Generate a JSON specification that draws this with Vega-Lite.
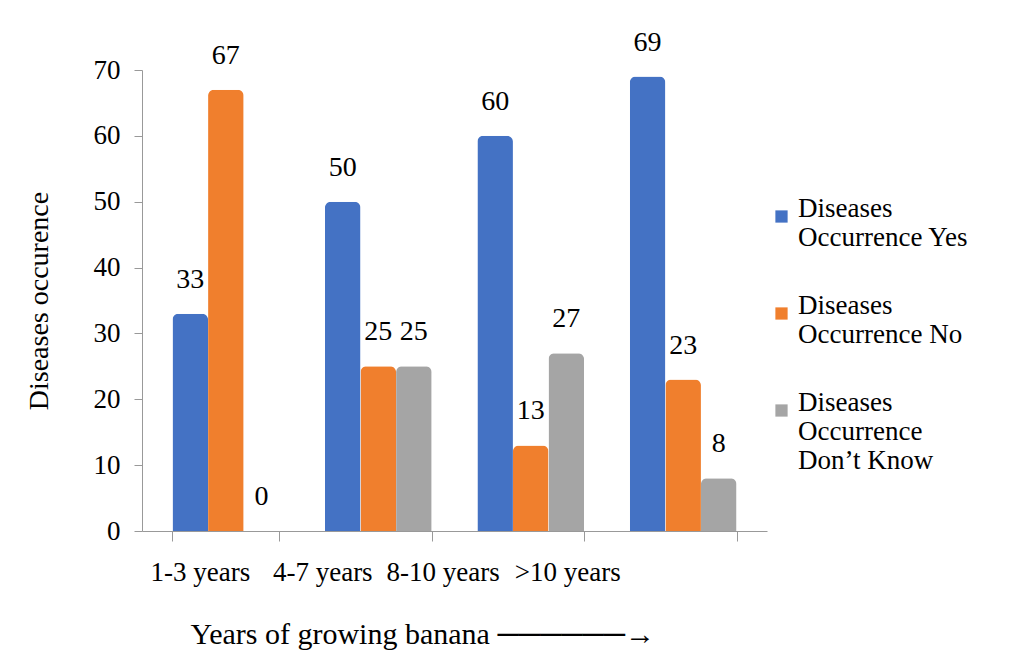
{
  "$schema": "https://vega.github.io/schema/vega-lite/v6.json",
  "width": 625,
  "height": 461,
  "autosize": {"type": "none"},
  "padding": {"left": 142, "top": 70, "right": 245, "bottom": 130},
  "background": "white",
  "data": {
    "values": [
      {"years": "1-3 years", "series": "Diseases Occurrence Yes", "value": 33},
      {"years": "1-3 years", "series": "Diseases Occurrence No", "value": 67},
      {"years": "1-3 years", "series": "Diseases Occurrence Don’t Know", "value": 0},
      {"years": "4-7 years", "series": "Diseases Occurrence Yes", "value": 50},
      {"years": "4-7 years", "series": "Diseases Occurrence No", "value": 25},
      {"years": "4-7 years", "series": "Diseases Occurrence Don’t Know", "value": 25},
      {"years": "8-10 years", "series": "Diseases Occurrence Yes", "value": 60},
      {"years": "8-10 years", "series": "Diseases Occurrence No", "value": 13},
      {"years": "8-10 years", "series": "Diseases Occurrence Don’t Know", "value": 27},
      {"years": ">10 years", "series": "Diseases Occurrence Yes", "value": 69},
      {"years": ">10 years", "series": "Diseases Occurrence No", "value": 23},
      {"years": ">10 years", "series": "Diseases Occurrence Don’t Know", "value": 8}
    ]
  },
  "encoding": {
    "x": {
      "field": "years",
      "type": "nominal",
      "sort": ["1-3 years", "4-7 years", "8-10 years", ">10 years"],
      "scale": {"paddingInner": 0.3, "paddingOuter": 0.2},
      "axis": {
        "title": "Years of growing banana  ──────→",
        "titleFont": "'Liberation Serif', 'Times New Roman', serif",
        "titleFontSize": 30,
        "titleFontWeight": "normal",
        "titleColor": "black",
        "titlePadding": 34,
        "titleAnchor": "start",
        "titleX": 48,
        "labelFont": "'Liberation Serif', 'Times New Roman', serif",
        "labelFontSize": 27,
        "labelFontWeight": "normal",
        "labelColor": "black",
        "labelAngle": 0,
        "labelPadding": 18,
        "labelOffset": {
          "condition": [
            {"test": "datum.value == '4-7 years'", "value": -56},
            {"test": "datum.value == '8-10 years'", "value": -88},
            {"test": "datum.value == '>10 years'", "value": -116}
          ],
          "value": -26
        },
        "tickBand": "extent",
        "tickSize": 10,
        "tickColor": "#999999",
        "domainColor": "#999999"
      }
    },
    "xOffset": {"field": "series", "type": "nominal", "sort": ["Diseases Occurrence Yes", "Diseases Occurrence No", "Diseases Occurrence Don’t Know"], "scale": {"paddingInner": 0, "paddingOuter": 0}},
    "y": {
      "field": "value",
      "type": "quantitative",
      "scale": {"domain": [0, 70], "nice": false},
      "axis": {
        "title": "Diseases occurence",
        "titleFont": "'Liberation Serif', 'Times New Roman', serif",
        "titleFontSize": 28,
        "titleFontWeight": "normal",
        "titleColor": "black",
        "titlePadding": 40,
        "labelFont": "'Liberation Serif', 'Times New Roman', serif",
        "labelFontSize": 27,
        "labelFontWeight": "normal",
        "labelColor": "black",
        "labelPadding": 14,
        "values": [0, 10, 20, 30, 40, 50, 60, 70],
        "grid": false,
        "tickSize": 8,
        "tickColor": "#999999",
        "domainColor": "#999999"
      }
    }
  },
  "layer": [
    {
      "mark": {"type": "bar", "cornerRadiusTopLeft": 6, "cornerRadiusTopRight": 6, "stroke": null},
      "encoding": {
        "color": {
          "field": "series",
          "type": "nominal",
          "sort": ["Diseases Occurrence Yes", "Diseases Occurrence No", "Diseases Occurrence Don’t Know"],
          "scale": {"domain": ["Diseases Occurrence Yes", "Diseases Occurrence No", "Diseases Occurrence Don’t Know"], "range": ["#4472C4", "#F07F2D", "#A5A5A5"]},
          "legend": {
            "title": null,
            "orient": "none",
            "legendX": 626,
            "legendY": 133,
            "symbolType": "square",
            "symbolSize": 150,
            "symbolOpacity": 1,
            "labelFont": "'Liberation Serif', 'Times New Roman', serif",
            "labelFontSize": 27,
            "labelFontWeight": "normal",
            "labelColor": "black",
            "labelLimit": 300,
            "labelOffset": 3,
            "rowPadding": 40,
            "labelBaseline": "alphabetic",
            "labelExpr": "datum.label == 'Diseases Occurrence Don’t Know' ? ['Diseases', 'Occurrence', 'Don’t Know'] : ['Diseases', substring(datum.label, 9)]"
          }
        }
      }
    },
    {
      "mark": {"type": "text", "dy": -34, "font": "'Liberation Serif', 'Times New Roman', serif", "fontSize": 28, "fontWeight": "normal", "color": "black"},
      "encoding": {
        "text": {"field": "value", "type": "quantitative"}
      }
    }
  ],
  "config": {"font": "'Liberation Serif', 'Times New Roman', serif", "view": {"stroke": null}}
}
